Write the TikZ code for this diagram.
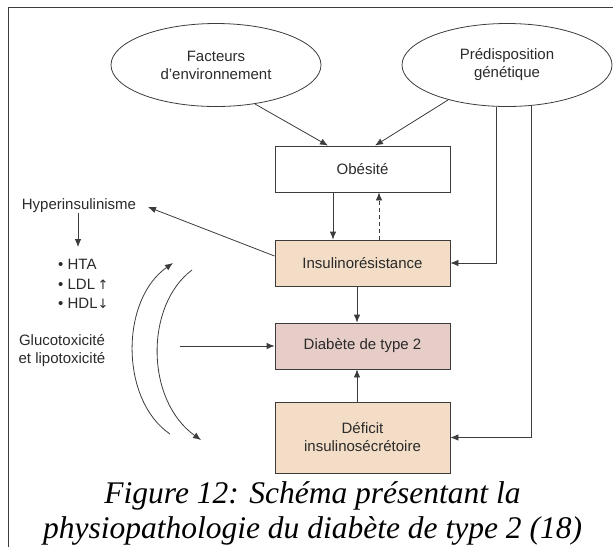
\documentclass[tikz,border=0pt]{standalone}
\usepackage{fontspec}
\setmainfont{Liberation Sans}
\newfontfamily\capfont{Liberation Serif}
\newfontfamily\symfont{DejaVu Sans}
\usetikzlibrary{shapes.geometric,arrows.meta}
\definecolor{linecol}{HTML}{3C3C3C}
\definecolor{textcol}{HTML}{2A2A2A}
\definecolor{peach}{HTML}{F3DDC6}
\definecolor{rose}{HTML}{E7CDC7}
\tikzset{
  base/.style={font=\fontsize{15}{18}\selectfont, text=textcol},
  oval/.style={base, ellipse, draw=linecol, line width=0.8pt, minimum width=210, minimum height=83, align=center, inner sep=0pt},
  box/.style={base, rectangle, draw=linecol, line width=0.8pt, minimum width=175, minimum height=46, align=center, inner sep=0pt},
  lbl/.style={base, inner sep=0pt, align=center},
  conn/.style={draw=linecol, line width=0.8pt, -{Latex[length=8,width=6.5]}},
  captxt/.style={inner sep=0pt, anchor=base, font=\capfont\itshape\fontsize{31.5}{36}\selectfont, text=black},
}
\begin{document}
\begin{tikzpicture}[x=1pt,y=-1pt]
\useasboundingbox (0,0) rectangle (613,547);
% frame
\draw[line width=1pt, draw=linecol] (8,547) -- (8,7) -- (613,7);
% ovals
\node[oval] (env) at (216,65) {Facteurs\\d’environnement};
\node[oval] (gen) at (507,65) {Prédisposition\\génétique};
% boxes
\node[box] (obe) at (362.5,169) {Obésité};
\node[box, fill=peach] (ir) at (362.5,263) {Insulinorésistance};
\node[box, fill=rose] (dt2) at (362.5,346) {Diabète de type 2};
\node[box, fill=peach, minimum height=71] (def) at (362.5,437.5) {Déficit\\insulinosécrétoire};
% left texts
\node[lbl] (hyp) at (79,206) {Hyperinsulinisme};
\node[lbl, align=left, anchor=north west, font=\fontsize{15}{19.5}\selectfont] (lst) at (58,259)
  {• HTA\\• LDL\,{\symfont\fontsize{13}{13}\selectfont ↑}\\• HDL{\symfont\fontsize{13}{13}\selectfont ↓}};
\node[lbl] (glu) at (62,351) {Glucotoxicité\\et lipotoxicité};
% caption
\node[captxt] (cap1) at (312.5,503) {Figure 12: Schéma présentant la};
\node[captxt] (cap2) at (312.5,538) {physiopathologie du diabète de type 2 (18)};
% coordinates
\coordinate (e1s) at (255,104);
\coordinate (e2s) at (448,100);
\coordinate (hypend) at (148,207);
\coordinate (irs) at (274.5,256);
\coordinate (hdown1) at (78,213);
\coordinate (hdown2) at (78,247);
\coordinate (glus) at (180,346);
\coordinate (a1s) at (170,434);
\coordinate (a1e) at (173,263);
\coordinate (a2s) at (192,270);
\coordinate (a2e) at (201,440);
\coordinate (g1) at (496,106.8);
\coordinate (g2) at (531,105.9);
% connectors
\draw[conn] (e1s) -- (obe.north -| 328,0);
\draw[conn] (e2s) -- (obe.north -| 375,0);
\draw[conn] (obe.south -| 333,0) -- (ir.north -| 333,0);
\draw[conn, dashed, dash pattern=on 4pt off 3pt] (ir.north -| 379,0) -- (obe.south -| 379,0);
\draw[conn] (ir.south -| 357,0) -- (dt2.north -| 357,0);
\draw[conn] (def.north -| 357,0) -- (dt2.south -| 357,0);
\draw[conn] (g1) -- (g1 |- ir.east) -- (ir.east);
\draw[conn] (g2) -- (g2 |- def.east) -- (def.east);
\draw[conn] (irs) -- (hypend);
\draw[conn] (hdown1) -- (hdown2);
\draw[conn] (glus) -- (dt2.west);
\draw[conn] (a1s) .. controls (120,400) and (120,300) .. (a1e);
\draw[conn] (a2s) .. controls (145,305) and (145,400) .. (a2e);
\end{tikzpicture}
\end{document}
